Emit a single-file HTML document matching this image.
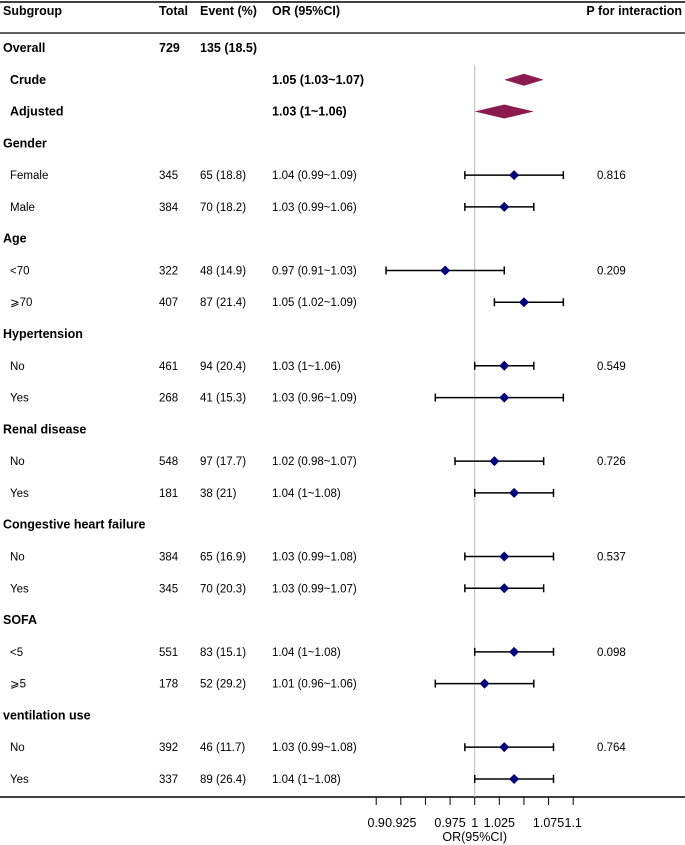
<!DOCTYPE html>
<html><head><meta charset="utf-8"><style>
body{margin:0;background:#fff;}
svg{display:block;font-family:"Liberation Sans","Noto Sans CJK SC",sans-serif;}
</style></head><body>
<svg id="plot" width="685" height="845">
<line x1="0" y1="2" x2="685" y2="2" stroke="#000" stroke-width="1.5"/>
<line x1="0" y1="33" x2="685" y2="33" stroke="#000" stroke-width="1.2"/>
<line x1="0" y1="797" x2="685" y2="797" stroke="#000" stroke-width="1.5"/>
<g font-size="12.5" font-weight="bold">
<text x="3" y="15">Subgroup</text><text x="159" y="15">Total</text><text x="200" y="15">Event (%)</text><text x="272" y="15">OR (95%CI)</text><text x="682" y="15" text-anchor="end">P for interaction</text>
</g>
<g id="rows"></g><g id="marks"></g><g id="axis"></g>
</svg>
<script>
const labels=["Overall","Crude","Adjusted","Gender","Female","Male","Age","<70","⩾70","Hypertension","No","Yes","Renal disease","No","Yes","Congestive heart failure","No","Yes","SOFA","<5","⩾5","ventilation use","No","Yes"];
const totals=["729","","","","345","384","","322","407","","461","268","","548","181","","384","345","","551","178","","392","337"];
const events=["135 (18.5)","","","","65 (18.8)","70 (18.2)","","48 (14.9)","87 (21.4)","","94 (20.4)","41 (15.3)","","97 (17.7)","38 (21)","","65 (16.9)","70 (20.3)","","83 (15.1)","52 (29.2)","","46 (11.7)","89 (26.4)"];
const orText=["","1.05 (1.03~1.07)","1.03 (1~1.06)","","1.04 (0.99~1.09)","1.03 (0.99~1.06)","","0.97 (0.91~1.03)","1.05 (1.02~1.09)","","1.03 (1~1.06)","1.03 (0.96~1.09)","","1.02 (0.98~1.07)","1.04 (1~1.08)","","1.03 (0.99~1.08)","1.03 (0.99~1.07)","","1.04 (1~1.08)","1.01 (0.96~1.06)","","1.03 (0.99~1.08)","1.04 (1~1.08)"];
const pvals=["","","","","0.816","","","0.209","","","0.549","","","0.726","","","0.537","","","0.098","","","0.764",""];
const est=[null,1.05,1.03,null,1.04,1.03,null,0.97,1.05,null,1.03,1.03,null,1.02,1.04,null,1.03,1.03,null,1.04,1.01,null,1.03,1.04];
const lo=[null,1.03,1.00,null,0.99,0.99,null,0.91,1.02,null,1.00,0.96,null,0.98,1.00,null,0.99,0.99,null,1.00,0.96,null,0.99,1.00];
const hi=[null,1.07,1.06,null,1.09,1.06,null,1.03,1.09,null,1.06,1.09,null,1.07,1.08,null,1.08,1.07,null,1.08,1.06,null,1.08,1.08];
const ticks=[0.9,0.925,0.95,0.975,1,1.025,1.05,1.075,1.1];
const tickLabels=["0.9","0.925","","0.975","1","1.025","","1.075","1.1"];
const boldRows=[0,1,2,3,6,9,12,15,18,21];
const summaryRows=[1,2];
const NS="http://www.w3.org/2000/svg";
const X=v=>474.7+(v-1)*985;
const Y=i=>48+i*31.78;
function mk(tag,attrs,parent,txt){const e=document.createElementNS(NS,tag);for(const k in attrs)e.setAttribute(k,attrs[k]);if(txt!==undefined)e.textContent=txt;parent.appendChild(e);return e;}
const rows=document.getElementById('rows'),marks=document.getElementById('marks'),axis=document.getElementById('axis');
labels.forEach((l,i)=>{
 const g=mk('g',{'font-size':boldRows.includes(i)?12.5:11.5,'font-weight':boldRows.includes(i)?'bold':'normal'},rows);
 
 
 const y=Y(i)+4;
 const ind=(i===0||boldRows.includes(i)&&!summaryRows.includes(i))?3:10;
 mk('text',{x:ind,y:y},g,l);
 mk('text',{x:159,y:y},g,totals[i]);
 mk('text',{x:200,y:y},g,events[i]);
 mk('text',{x:272,y:y},g,orText[i]);
 mk('text',{x:597,y:y,'font-weight':'normal','font-size':11.5},g,pvals[i]);
});
const ref=mk('line',{x1:X(1),x2:X(1),y1:65,y2:797,stroke:'#bbb','stroke-width':1},marks);


est.forEach((e,i)=>{
 if(e===null)return;
 const y=Y(i);
 if(summaryRows.includes(i)){
  const h=i===1?6:7;
  const d=mk('polygon',{points:`${X(lo[i])},${y} ${X(e)},${y-h} ${X(hi[i])},${y} ${X(e)},${y+h}`,fill:'#8b1a4f'},marks);
  
  
  return;
 }
 const g=mk('g',{stroke:'#000','stroke-width':1.5},marks);
 
 
 mk('line',{x1:X(lo[i]),x2:X(hi[i]),y1:y,y2:y},g);
 mk('line',{x1:X(lo[i]),x2:X(lo[i]),y1:y-4,y2:y+4},g);
 mk('line',{x1:X(hi[i]),x2:X(hi[i]),y1:y-4,y2:y+4},g);
 const p=mk('polygon',{points:`${X(e)-5},${y} ${X(e)},${y-5} ${X(e)+5},${y} ${X(e)},${y+5}`,fill:'#00007a',stroke:'none'},marks);
 
 
});
ticks.forEach((t,i)=>{
 const l=mk('line',{x1:X(t),x2:X(t),y1:797,y2:805,stroke:'#000','stroke-width':1},axis);
 
 
 if(tickLabels[i]){const tx=mk('text',{x:X(t),y:827,'text-anchor':'middle','font-size':12.5},axis,tickLabels[i]);
 
 }
});
const at=mk('text',{x:X(1),y:841,'text-anchor':'middle','font-size':12.5},axis,'OR(95%CI)');


</script>
</body></html>
